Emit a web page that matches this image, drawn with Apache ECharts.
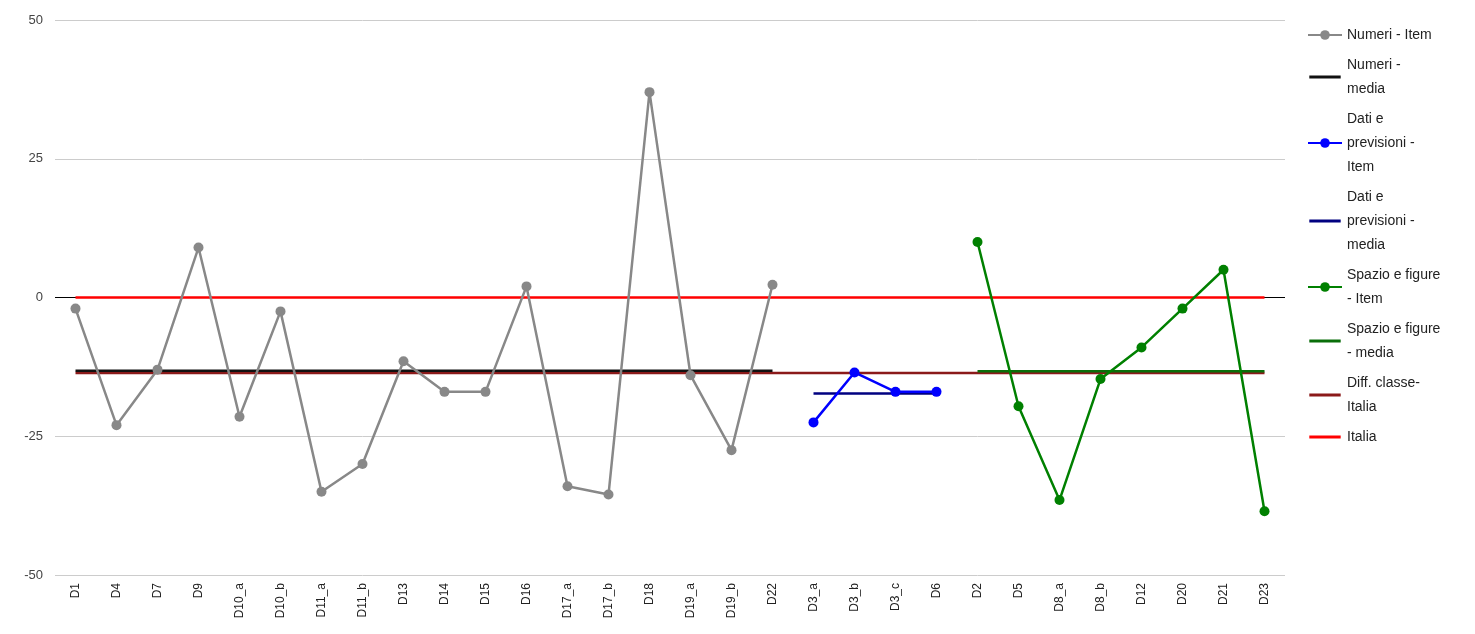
<!DOCTYPE html>
<html>
<head>
<meta charset="UTF-8">
<script src="https://cdn.jsdelivr.net/npm/echarts@6/dist/echarts.min.js"></script>
<style>
  html, body { margin: 0; padding: 0; background: #fff; }
  #chart { width: 1475px; height: 634px; }
</style>
</head>
<body>
<div id="chart"></div>
<script>
// categories
const categories = ['D1','D4','D7','D9','D10_a','D10_b','D11_a','D11_b','D13','D14','D15','D16','D17_a','D17_b','D18','D19_a','D19_b','D22',
  'D3_a','D3_b','D3_c','D6',
  'D2','D5','D8_a','D8_b','D12','D20','D21','D23'];

// item values per group
const numeriItem = [-2, -23, -13, 9, -21.5, -2.5, -35, -30, -11.5, -17, -17, 2, -34, -35.5, 37, -14, -27.5, 2.3];
const datiItem = [-22.5, -13.5, -17, -17];
const spazioItem = [10, -19.6, -36.5, -14.7, -9, -2, 5, -38.5];

// averages
const numeriMedia = -13.2;
const datiMedia = -17.3;
const spazioMedia = -13.3;
const diffClasseItalia = -13.6;
const italia = 0;

const n = categories.length;
const nNum = numeriItem.length, nDati = datiItem.length;

function place(values, start) {
  const out = new Array(n).fill(null);
  values.forEach((v, i) => { out[start + i] = v; });
  return out;
}
function flat(value, start, len) {
  return place(new Array(len).fill(value), start);
}

const itemSeries = (name, color, data) => ({
  name, type: 'line', data, connectNulls: false,
  symbol: 'circle', symbolSize: 10,
  lineStyle: { color, width: 2.5 }, itemStyle: { color }, z: 5
});
const lineSeries = (name, color, data, z) => ({
  name, type: 'line', data, symbol: 'none',
  lineStyle: { color, width: 2.5 }, itemStyle: { color }, z
});

// plain bar icon for the legend (invisible corners keep the box height)
const barIcon = 'path://M0,0L0.01,0M0,5L34,5L34,8L0,8ZM0,13L0.01,13';

const chart = echarts.init(document.getElementById('chart'));
chart.setOption({
  animation: false,
  grid: { left: 55, right: 190, top: 20, bottom: 59 },
  legend: {
    orient: 'vertical', left: 1302, top: 18, itemWidth: 34, itemHeight: 12, itemGap: 6,
    textStyle: { fontSize: 14, color: '#222', lineHeight: 24 },
    data: ['Numeri - Item',{ name: 'Numeri - media', icon: barIcon },'Dati e previsioni - Item',{ name: 'Dati e previsioni - media', icon: barIcon },
      'Spazio e figure - Item',{ name: 'Spazio e figure - media', icon: barIcon },{ name: 'Diff. classe-Italia', icon: barIcon },{ name: 'Italia', icon: barIcon }],
    formatter: name => ({
      'Numeri - Item': 'Numeri - Item',
      'Numeri - media': 'Numeri -\nmedia',
      'Dati e previsioni - Item': 'Dati e\nprevisioni -\nItem',
      'Dati e previsioni - media': 'Dati e\nprevisioni -\nmedia',
      'Spazio e figure - Item': 'Spazio e figure\n- Item',
      'Spazio e figure - media': 'Spazio e figure\n- media',
      'Diff. classe-Italia': 'Diff. classe-\nItalia',
      'Italia': 'Italia'
    })[name]
  },
  xAxis: {
    type: 'category', data: categories, boundaryGap: true,
    axisLine: { show: false }, axisTick: { show: false },
    axisLabel: { rotate: 90, fontSize: 12, color: '#222', interval: 0 }
  },
  yAxis: {
    type: 'value', min: -50, max: 50, interval: 25,
    axisLine: { show: false }, axisTick: { show: false },
    axisLabel: { fontSize: 13, color: '#444', margin: 12 },
    splitLine: { lineStyle: { color: '#ccc' } }
  },
  series: [
    itemSeries('Numeri - Item', '#888888', place(numeriItem, 0)),
    lineSeries('Numeri - media', '#111111', flat(numeriMedia, 0, nNum), 4),
    itemSeries('Dati e previsioni - Item', '#0000ff', place(datiItem, nNum)),
    lineSeries('Dati e previsioni - media', '#000080', flat(datiMedia, nNum, nDati), 4),
    itemSeries('Spazio e figure - Item', '#008000', place(spazioItem, nNum + nDati)),
    lineSeries('Spazio e figure - media', '#0a6e0a', flat(spazioMedia, nNum + nDati, spazioItem.length), 4),
    lineSeries('Diff. classe-Italia', '#8b1a1a', flat(diffClasseItalia, 0, n), 3),
    Object.assign(lineSeries('Italia', '#ff0000', flat(italia, 0, n), 3), {
      markLine: {
        silent: true, symbol: 'none', label: { show: false },
        lineStyle: { color: '#000', width: 1, type: 'solid' },
        data: [{ yAxis: 0 }], z: 1
      }
    })
  ]
});
</script>
</body>
</html>
